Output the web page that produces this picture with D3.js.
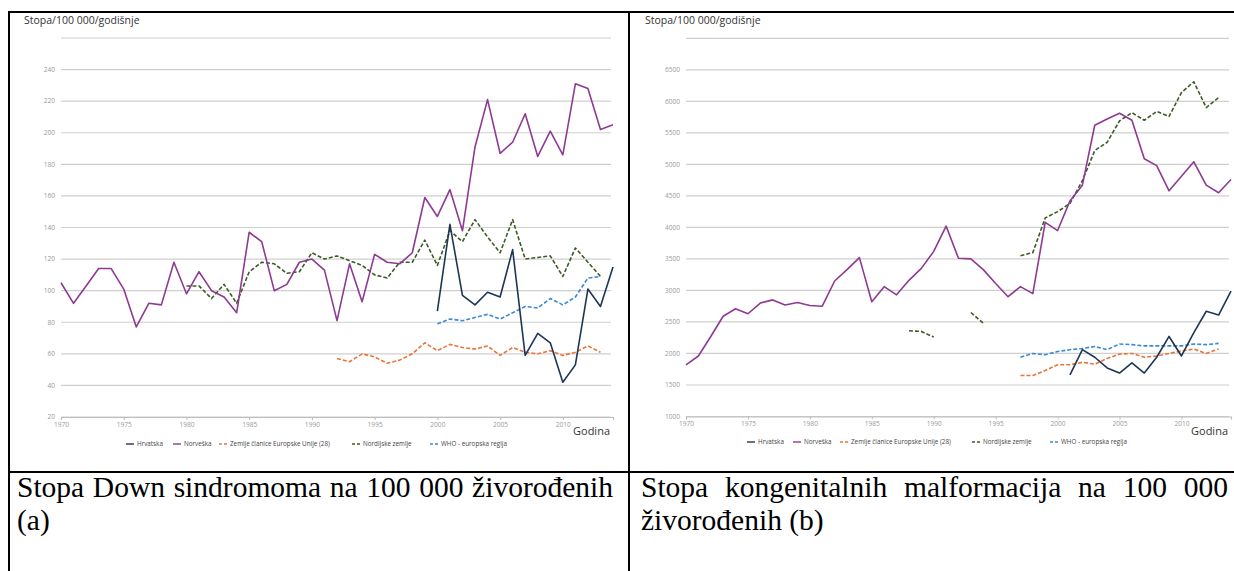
<!DOCTYPE html>
<html>
<head>
<meta charset="utf-8">
<script src="https://cdn.jsdelivr.net/npm/d3@7"></script>
<style>
  html, body { margin: 0; padding: 0; background: #fff; }
  svg { display: block; }
</style>
</head>
<body>
<svg id="chart" width="1234" height="571"></svg>
<script>
// ---------------- DATA ----------------
// Chart (a): Down syndrome rate per 100 000 live births
const yTicksA = [20, 40, 60, 80, 100, 120, 140, 160, 180, 200, 220, 240];
const yGridA = [20, 40, 60, 80, 100, 120, 140, 160, 180, 200, 220, 240, 260];
// Chart (b): congenital malformations per 100 000 live births
const yTicksB = [1000, 1500, 2000, 2500, 3000, 3500, 4000, 4500, 5000, 5500, 6000, 6500];
const yGridB = [1000, 1500, 2000, 2500, 3000, 3500, 4000, 4500, 5000, 5500, 6000, 6500, 7000];
const xTickYears = [1970, 1975, 1980, 1985, 1990, 1995, 2000, 2005, 2010];

const seriesNames = ["Hrvatska", "Norveška", "Zemlje članice Europske Unije (28)", "Nordijske zemlje", "WHO - europska regija"];

// (a) values, each with its first year
const hrvatskaAStart = 2000;
const hrvatskaA = [87, 142, 97, 91, 99, 96, 126, 59, 73, 67, 42, 53, 101, 90, 115];
const norveskaAStart = 1970;
const norveskaA = [105, 92, 103, 114, 114, 101, 77, 92, 91, 118,
                   98, 112, 100, 96, 86, 137, 131, 100, 104, 118,
                   120, 113, 81, 117, 93, 123, 118, 117, 124, 159,
                   147, 164, 138, 191, 221, 187, 194, 212, 185, 201,
                   186, 231, 228, 202, 205];
const euAStart = 1992;
const euA = [57, 55, 60, 58, 54, 56, 60, 67, 62, 66, 64, 63, 65, 59, 64, 61, 60, 62, 59, 61, 65, 61];
const nordicAStart = 1980;
const nordicA = [103, 103, 95, 104, 92, 112, 118, 117, 111, 112,
                 124, 120, 122, 119, 116, 110, 108, 118, 118, 132,
                 116, 138, 131, 145, 134, 124, 145, 120, 121, 122,
                 109, 127, 118, 109];
const whoAStart = 2000;
const whoA = [79, 82, 81, 83, 85, 82, 86, 90, 89, 95, 91, 96, 108, 109];

// (b) values
const hrvatskaBStart = 2001;
const hrvatskaB = [1660, 2060, 1940, 1770, 1690, 1850, 1690, 1940, 2270, 1960, 2330, 2670, 2610, 2990];
const norveskaBStart = 1970;
const norveskaB = [1820, 1960, 2270, 2590, 2710, 2630, 2800, 2850, 2770, 2810,
                   2760, 2750, 3150, 3330, 3520, 2820, 3060, 2930, 3160, 3350,
                   3620, 4020, 3510, 3500, 3330, 3110, 2900, 3060, 2950, 4080,
                   3950, 4420, 4670, 5620, 5720, 5810, 5700, 5090, 4980, 4580,
                   4810, 5040, 4670, 4550, 4760];
const euBStart = 1997;
const euB = [1650, 1650, 1730, 1820, 1820, 1860, 1830, 1920, 1990, 2000, 1940, 1960, 2000, 2040, 2070, 2000, 2070];
const nordicBStart = 1988;
const nordicB = [2360, 2350, 2260, null, null, 2650, 2480, null, null, 3550,
                 3600, 4150, 4250, 4380, 4740, 5220, 5350, 5690, 5820, 5700,
                 5840, 5760, 6140, 6310, 5900, 6060];
const whoBStart = 1997;
const whoB = [1940, 2000, 1980, 2030, 2060, 2080, 2110, 2060, 2150, 2140, 2120, 2120, 2120, 2120, 2150, 2140, 2160];

const captionA = ["Stopa Down sindromoma na 100 000 živorođenih", "(a)"];
const captionB = ["Stopa kongenitalnih malformacija na 100 000", "živorođenih (b)"];
const yTitle = "Stopa/100 000/godišnje";
const xTitle = "Godina";

// ---------------- STYLE ----------------
const colors = ["#1d3557", "#8e3a92", "#e8753a", "#3e5b26", "#3a8ad6"];
const dashed = [false, false, true, true, true];

const svg = d3.select("#chart");
svg.append("rect").attr("width", 1234).attr("height", 571).attr("fill", "#fff");

function toPoints(start, vals) {
  return vals.map((v, i) => ({ year: start + i, value: v }));
}

function drawChart(cfg) {
  const g = svg.append("g");
  const x = d3.scaleLinear().domain([1970, 2014]).range([cfg.x0, cfg.x1]);
  const y = d3.scaleLinear().domain(cfg.yDomain).range([cfg.yBottom, cfg.yTop]);

  // grid lines
  g.append("g").selectAll("line").data(cfg.grid).join("line")
    .attr("x1", cfg.x0).attr("x2", cfg.x1 - 2)
    .attr("y1", d => y(d)).attr("y2", d => y(d))
    .attr("stroke", "#cfcfcf").attr("stroke-width", 1.2);

  // y tick labels
  g.append("g").selectAll("text").data(cfg.ticks).join("text")
    .attr("x", cfg.x0 - 6).attr("y", d => y(d) + 2.3)
    .attr("text-anchor", "end")
    .attr("font-family", "Open Sans, sans-serif").attr("font-size", 6.6)
    .attr("fill", "#9a9a9a")
    .text(d => d);

  // x axis
  const xAxis = d3.axisBottom(x).tickValues(xTickYears).tickFormat(d3.format("d")).tickSize(3).tickPadding(2);
  const ax = g.append("g").attr("transform", `translate(0,${cfg.yBottom})`).call(xAxis);
  ax.select(".domain").attr("stroke", "#bdbdbd").attr("stroke-width", 1.2);
  ax.selectAll(".tick line").attr("stroke", "#bdbdbd");
  ax.selectAll(".tick text").attr("font-family", "Open Sans, sans-serif").attr("font-size", 6.6).attr("fill", "#9a9a9a");

  // y title
  g.append("text").attr("x", cfg.titleX).attr("y", 24)
    .attr("font-family", "Open Sans, sans-serif").attr("font-size", 10.5).attr("fill", "#333")
    .text(yTitle);

  // x title
  g.append("text").attr("x", cfg.x1 - 3).attr("y", cfg.yBottom + 18)
    .attr("text-anchor", "end")
    .attr("font-family", "Open Sans, sans-serif").attr("font-size", 11).attr("fill", "#333")
    .text(xTitle);

  // lines
  const line = d3.line().defined(d => d.value != null).x(d => x(d.year)).y(d => y(d.value));
  const order = [3, 1, 4, 2, 0];
  order.forEach(i => {
    const s = cfg.series[i];
    g.append("path").datum(toPoints(s.start, s.values))
      .attr("fill", "none")
      .attr("stroke", colors[i])
      .attr("stroke-width", 1.6)
      .attr("stroke-linejoin", "round")
      .attr("stroke-dasharray", dashed[i] ? "4,2" : null)
      .attr("d", line);
  });

  // legend
  const lg = g.append("g");
  seriesNames.forEach((name, i) => {
    const lx = cfg.legendX[i];
    lg.append("line").attr("x1", lx).attr("x2", lx + 8)
      .attr("y1", cfg.legendY).attr("y2", cfg.legendY)
      .attr("stroke", colors[i]).attr("stroke-width", 1.4)
      .attr("stroke-dasharray", dashed[i] ? "3,2" : null);
    lg.append("text").attr("x", lx + 11).attr("y", cfg.legendY + 2.2)
      .attr("font-family", "Open Sans, sans-serif").attr("font-size", 6.3).attr("fill", "#444")
      .text(name);
  });
}

drawChart({
  x0: 61, x1: 613, yBottom: 417, yTop: 38, yDomain: [20, 260],
  grid: yGridA, ticks: yTicksA, titleX: 24,
  legendX: [126, 173, 219, 352, 430], legendY: 444,
  series: [
    { start: hrvatskaAStart, values: hrvatskaA },
    { start: norveskaAStart, values: norveskaA },
    { start: euAStart, values: euA },
    { start: nordicAStart, values: nordicA },
    { start: whoAStart, values: whoA }
  ]
});

drawChart({
  x0: 686, x1: 1231, yBottom: 416.5, yTop: 38.3, yDomain: [1000, 7000],
  grid: yGridB, ticks: yTicksB, titleX: 645,
  legendX: [747, 793, 840, 972, 1050], legendY: 442,
  series: [
    { start: hrvatskaBStart, values: hrvatskaB },
    { start: norveskaBStart, values: norveskaB },
    { start: euBStart, values: euB },
    { start: nordicBStart, values: nordicB },
    { start: whoBStart, values: whoB }
  ]
});

// ---------------- TABLE BORDERS ----------------
const bord = svg.append("g").attr("stroke", "#000").attr("stroke-width", 2);
bord.append("line").attr("x1", 8).attr("x2", 1234).attr("y1", 12).attr("y2", 12);
bord.append("line").attr("x1", 9).attr("x2", 9).attr("y1", 11).attr("y2", 571);
bord.append("line").attr("x1", 629).attr("x2", 629).attr("y1", 11).attr("y2", 571);
bord.append("line").attr("x1", 8).attr("x2", 1234).attr("y1", 472).attr("y2", 472);

// ---------------- CAPTIONS ----------------
function caption(lines, xL, xR, base, lh) {
  lines.forEach((ln, li) => {
    const words = ln.split(" ");
    const yy = base + li * lh;
    const nodes = words.map(w => svg.append("text")
      .attr("y", yy).attr("font-family", "Liberation Serif, Times New Roman, serif")
      .attr("font-size", 29.5).attr("fill", "#000").text(w));
    const widths = nodes.map(n => n.node().getComputedTextLength());
    const total = d3.sum(widths);
    const justify = li === 0;
    const gap = justify ? (xR - xL - total) / (words.length - 1) : 7.4;
    let cx = xL;
    nodes.forEach((n, i) => { n.attr("x", cx); cx += widths[i] + gap; });
  });
}
caption(captionA, 17, 613, 497, 33);
caption(captionB, 641, 1228, 497, 33);
</script>
</body>
</html>
